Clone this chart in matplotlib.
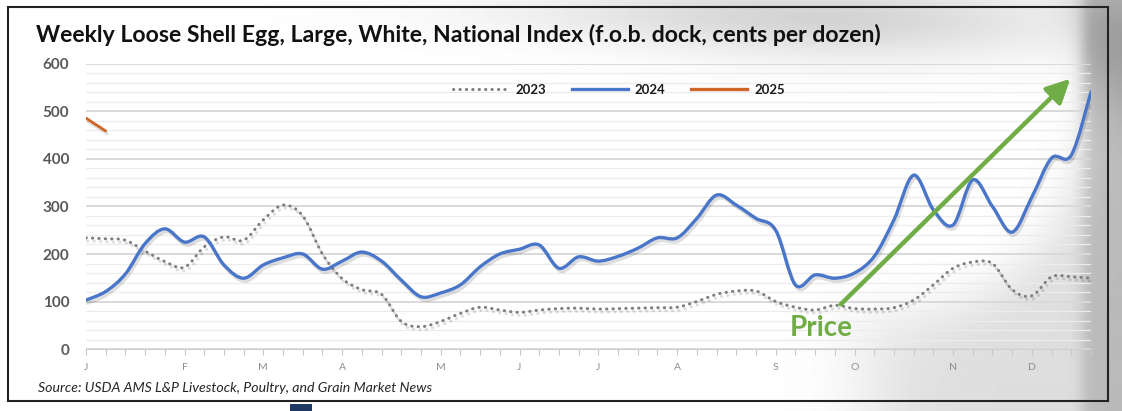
import matplotlib
matplotlib.use("Agg")
import matplotlib.pyplot as plt
import matplotlib.patheffects as pe
from matplotlib.path import Path
from matplotlib.patches import PathPatch, Rectangle, FancyArrowPatch
from matplotlib.lines import Line2D
import numpy as np

plt.rcParams["font.family"] = ["Lato", "DejaVu Sans"]

# weekly values, cents per dozen
weeks = np.arange(52)
y2023 = [234, 232, 229, 206, 184, 172, 215, 236, 229, 272, 303, 280, 200, 148, 125, 115,
         58, 47, 58, 75, 88, 82, 77, 82, 85, 86, 84, 85, 86, 87, 88, 100, 115, 122, 122,
         100, 88, 82, 92, 85, 84, 87, 103, 135, 170, 183, 180, 125, 112, 152, 152, 149]
y2024 = [103, 121, 158, 222, 253, 225, 236, 177, 149, 177, 192, 200, 168, 185, 204, 185,
         145, 110, 118, 135, 173, 200, 210, 219, 170, 194, 185, 195, 212, 234, 234, 275,
         324, 303, 275, 250, 135, 156, 149, 160, 195, 272, 366, 293, 261, 356, 300, 246,
         320, 402, 408, 541]
y2025 = [486, 459]
month_weeks = [0, 5, 9, 13, 18, 22, 26, 30, 35, 39, 44, 48]
month_labels = ["J", "F", "M", "A", "M", "J", "J", "A", "S", "O", "N", "D"]

C23, C24, C25 = "#7f7f7f", "#4a76c9", "#d0652a"
GREEN = "#70ad47"
W, H = 1122, 411


def smooth_path(xs, ys):
    # Catmull-Rom through the points, drawn as cubic Bezier segments
    pts = np.column_stack([xs, ys]).astype(float)
    n = len(pts)
    verts, codes = [pts[0]], [Path.MOVETO]
    for i in range(n - 1):
        p0, p1, p2, p3 = pts[max(i - 1, 0)], pts[i], pts[i + 1], pts[min(i + 2, n - 1)]
        verts += [p1 + (p2 - p0) / 6, p2 - (p3 - p1) / 6, p2]
        codes += [Path.CURVE4] * 3
    return Path(verts, codes)


def draw_series(ax, xs, ys, color, lw, ls="-"):
    patch = PathPatch(smooth_path(xs, ys), fill=False, edgecolor=color, lw=lw,
                      linestyle=ls, capstyle="round", zorder=3)
    patch.set_path_effects([pe.SimpleLineShadow(offset=(1.2, -2.2), shadow_color="black", alpha=0.13),
                            pe.Normal()])
    ax.add_patch(patch)


fig = plt.figure(figsize=(W / 100, H / 100), dpi=100)

# background: soft grey shading, white "egg" area, border
bg = fig.add_axes([0, 0, 1, 1], zorder=-5)
gx, gy = np.meshgrid(np.arange(W), np.arange(H))
shade = 0.12 * np.exp(-((gx - 870) / 220.0) ** 2 - ((gy - 25) / 40.0) ** 2)
shade += 0.08 * np.exp(-((gx - 700) / 250.0) ** 2 - ((gy - 12) / 28.0) ** 2)
r = np.hypot((gx - 900) / 190.0, (gy - 100) / 215.0)
shade += 0.13 / (1 + np.exp(-(r - 1.0) * 14)) * (1 / (1 + np.exp(-(gx - 870) / 25.0)))
edge = 1 / (1 + np.exp(-(gx - 1082) / 4.0))
shade += edge * (0.14 + 0.10 * np.exp(-((gy - 60) / 60.0) ** 2))
img = 1 - np.clip(shade, 0, 0.5)
bg.imshow(img, cmap="gray", vmin=0, vmax=1, extent=[0, W, H, 0], aspect="auto")
bg.set_xlim(0, W); bg.set_ylim(H, 0); bg.axis("off")
bg.add_patch(Rectangle((8, 7), 1100, 394, fill=False, ec="#222222", lw=1.5))
bg.add_patch(Rectangle((290, 404), 22, 7, fc="#1f3864", ec="none"))
bg.text(36, 42, "Weekly Loose Shell Egg, Large, White, National Index (f.o.b. dock, cents per dozen)",
        fontsize=16.6, fontweight="bold", color="#111111", va="baseline", ha="left")
bg.text(38, 388, "Source: USDA AMS L&P Livestock, Poultry, and Grain Market News",
        fontsize=10.2, style="italic", color="#262626", va="center", ha="left")

ax = fig.add_axes([86 / W, (H - 349) / H, 1005 / W, 285 / H])
ax.set_facecolor("none")
ax.set_xlim(0, 51)
ax.set_ylim(0, 600)

ax.set_yticks(range(0, 601, 100))
ax.set_yticks(range(0, 601, 20), minor=True)
ax.grid(axis="y", which="major", color="#d9d9d9", lw=1.4)
ax.grid(axis="y", which="minor", color="#ececec", lw=0.9)
ax.tick_params(axis="y", which="both", length=0, pad=12, labelsize=11, labelcolor="#595959")
for t in ax.get_yticklabels():
    t.set_fontweight("bold")

ax.set_xticks(month_weeks)
ax.set_xticklabels(month_labels)
ax.set_xticks(weeks, minor=True)
ax.tick_params(axis="x", which="both", length=4, width=0.8, color="#c8c8c8",
               labelsize=7.5, labelcolor="#8c8c8c", pad=6)
for sp in ["top", "right", "left"]:
    ax.spines[sp].set_visible(False)
ax.spines["bottom"].set_color("#d0d0d0")

draw_series(ax, weeks, y2023, C23, 2.2, ls=(0, (0.1, 2)))
draw_series(ax, weeks, y2024, C24, 2.4)
draw_series(ax, weeks[:len(y2025)], y2025, C25, 2.0)

handles = [Line2D([], [], color=C23, lw=2.2, ls=(0, (0.1, 2)), dash_capstyle="round"),
           Line2D([], [], color=C24, lw=2.4),
           Line2D([], [], color=C25, lw=2.4)]
leg = ax.legend(handles, ["2023", "2024", "2025"], ncol=3, loc="center",
                bbox_to_anchor=(0.53, 0.909), frameon=False, handlelength=4.3,
                handletextpad=0.5, columnspacing=1.9, prop={"weight": "bold", "size": 9.5})
for t in leg.get_texts():
    t.set_color("#1a1a1a")

# annotation arrow
arrow_tail, arrow_head = (38.2, 90), (50.05, 573)
ax.add_patch(FancyArrowPatch(arrow_tail, arrow_head, arrowstyle="-|>,head_length=1.1,head_width=0.55",
                             mutation_scale=13, color=GREEN, lw=3.2, zorder=5, clip_on=False))
ax.text(37.3, 44, "Price", color=GREEN, fontsize=20, fontweight="bold", ha="center", va="center", zorder=5)

fig.savefig("out.png", dpi=100)
